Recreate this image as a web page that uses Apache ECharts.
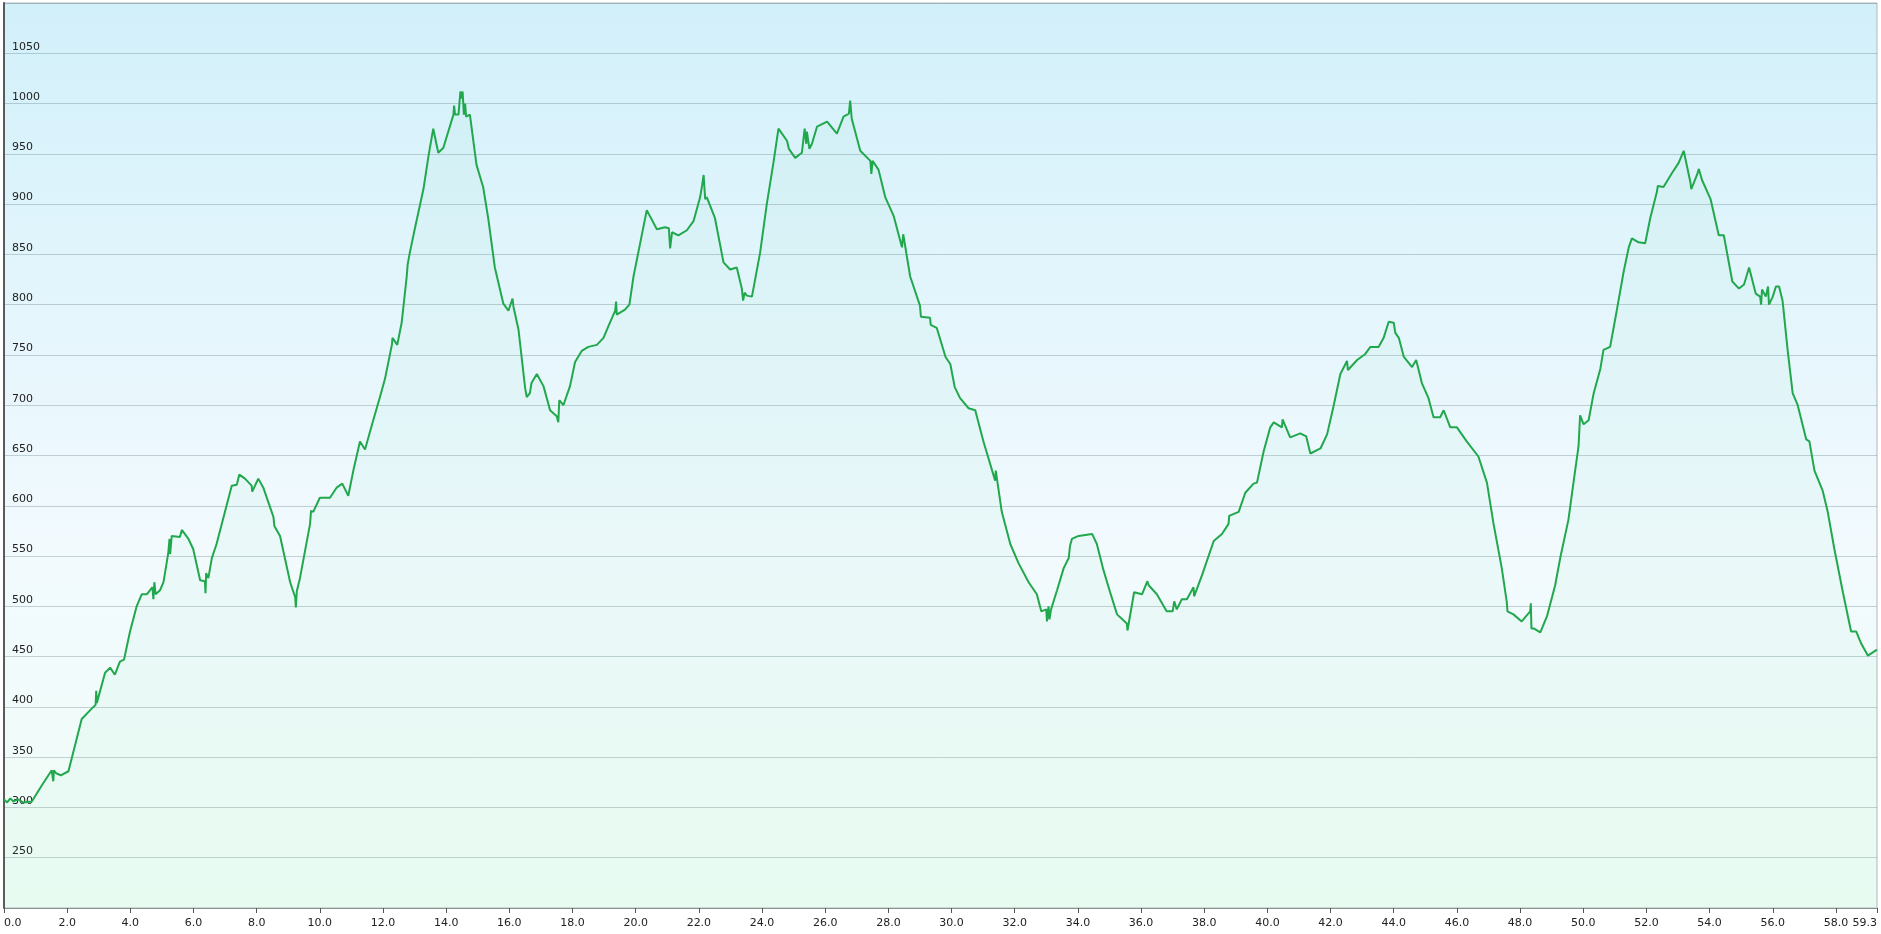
<!DOCTYPE html>
<html>
<head>
<meta charset="utf-8">
<title>Elevation profile</title>
<script src="https://cdn.jsdelivr.net/npm/echarts@6/dist/echarts.min.js"></script>
<style>
html,body{margin:0;padding:0;background:#fff;}
#chart{width:1881px;height:934px;}
</style>
</head>
<body>
<div id="chart"></div>
<script>
// distance (km)
var distances = [
0.00,0.10,0.20,0.30,0.45,0.60,0.88,1.20,1.51,1.56,1.58,1.65,1.80,2.04,2.46,2.83,2.90,2.92,2.94,3.20,
3.36,3.51,3.67,3.80,3.99,4.20,4.36,4.52,4.70,4.73,4.76,4.80,4.94,5.05,5.20,5.24,5.26,5.31,5.57,5.63,
5.84,5.99,6.21,6.36,6.38,6.40,6.47,6.58,6.73,7.21,7.37,7.45,7.63,7.84,7.86,8.05,8.21,8.53,8.56,8.74,
9.06,9.22,9.24,9.27,9.37,9.69,9.72,9.79,10.00,10.32,10.53,10.71,10.90,11.06,11.27,11.43,11.69,11.91,12.06,12.28,
12.30,12.45,12.59,12.75,12.78,12.85,13.01,13.28,13.44,13.59,13.75,13.91,14.23,14.25,14.28,14.39,14.45,14.49,14.52,14.56,
14.60,14.63,14.75,14.96,15.17,15.33,15.54,15.81,15.97,16.10,16.13,16.29,16.50,16.55,16.65,16.70,16.87,17.08,17.29,17.50,
17.55,17.58,17.71,17.92,18.08,18.29,18.50,18.77,18.98,19.14,19.35,19.38,19.40,19.66,19.80,19.93,20.14,20.35,20.67,20.93,
21.05,21.09,21.15,21.35,21.62,21.83,22.04,22.10,22.15,22.20,22.25,22.51,22.78,22.99,23.20,23.36,23.40,23.45,23.52,23.68,
23.94,24.15,24.36,24.52,24.79,24.85,25.05,25.26,25.35,25.40,25.42,25.50,25.58,25.74,26.06,26.37,26.58,26.75,26.79,26.84,
26.90,27.11,27.43,27.46,27.50,27.69,27.90,28.17,28.43,28.47,28.69,29.00,29.03,29.32,29.34,29.53,29.81,29.96,30.10,30.27,
30.54,30.75,31.01,31.38,31.40,31.59,31.86,32.12,32.44,32.70,32.84,33.00,33.02,33.07,33.10,33.15,33.34,33.55,33.71,33.75,
33.81,34.02,34.45,34.60,34.81,35.02,35.24,35.55,35.57,35.78,36.03,36.20,36.24,36.50,36.81,37.00,37.05,37.13,37.29,37.45,
37.66,37.68,37.93,38.30,38.56,38.77,38.79,39.09,39.30,39.56,39.67,39.88,40.09,40.20,40.46,40.48,40.72,41.04,41.23,41.36,
41.68,41.89,42.10,42.31,42.52,42.55,42.84,43.10,43.26,43.52,43.68,43.84,44.00,44.05,44.16,44.32,44.58,44.71,44.89,45.10,
45.26,45.47,45.58,45.79,46.00,46.31,46.68,46.95,47.16,47.42,47.58,47.60,47.79,48.05,48.32,48.34,48.36,48.43,48.64,48.85,
49.11,49.27,49.53,49.69,49.85,49.90,50.01,50.17,50.33,50.54,50.64,50.85,51.06,51.28,51.44,51.54,51.75,51.96,52.12,52.33,
52.36,52.54,52.81,53.02,53.18,53.39,53.42,53.60,53.66,53.76,54.03,54.29,54.45,54.72,54.93,55.09,55.25,55.46,55.60,55.63,
55.66,55.78,55.85,55.88,56.00,56.10,56.20,56.31,56.47,56.63,56.79,57.06,57.16,57.32,57.58,57.74,57.95,58.22,58.48,58.64,
58.80,59.01,59.30
];
// elevation (m)
var elevations = [
308,305,309,306,308,305,306,322,337,326,337,334,332,336,388,400,402,416,404,434,
439,432,445,447,475,500,512,512,519,507,524,512,516,524,553,567,552,570,569,576,
567,557,526,525,513,533,528,548,562,620,621,631,627,620,614,627,618,589,580,570,
524,509,499,515,528,582,595,594,608,608,618,622,610,635,664,656,685,709,726,760,
767,760,782,828,840,852,876,915,948,975,951,956,989,998,989,989,1012,1005,1012,989,
1000,987,989,939,917,886,837,801,794,806,798,775,717,708,712,722,731,719,695,689,
683,705,700,719,743,754,758,760,767,779,794,803,790,795,800,828,861,894,875,877,
876,856,872,869,874,883,907,918,929,905,907,886,842,835,837,816,804,812,809,808,
852,900,941,975,963,955,946,951,975,960,972,955,960,977,982,970,987,990,1003,985,
985,953,943,930,943,934,907,888,857,870,828,799,788,787,780,777,748,741,718,707,
697,695,664,625,635,594,562,543,524,512,495,497,485,500,487,497,516,538,548,560,
567,570,572,562,536,514,492,483,476,514,512,525,521,512,495,495,505,497,507,507,
519,510,531,565,572,582,590,594,613,622,623,654,678,683,678,686,668,672,669,652,
657,671,700,731,744,735,745,751,758,758,767,783,782,772,767,748,738,745,722,707,
688,688,695,678,678,664,649,623,582,538,504,495,492,485,495,503,478,478,474,490,
521,548,586,623,659,690,681,685,712,736,755,758,794,833,857,866,862,861,886,912,
918,917,931,941,953,922,915,929,935,924,905,869,869,823,816,820,837,811,808,800,
815,808,818,800,808,818,818,804,755,712,700,666,664,635,615,594,557,514,475,475,
463,451,457
];
// axis ranges / ticks
var xMin = 0, xMax = 59.3, xStep = 2;
var yMin = 200, yMax = 1100, yStep = 50;

var points = distances.map(function (d, i) { return [d, elevations[i]]; });

var chart = echarts.init(document.getElementById('chart'), null, {renderer: 'canvas'});
var font = '"DejaVu Sans", Verdana, sans-serif';
chart.setOption({
  animation: false,
  grid: {
    left: 4, right: 4, top: 3, bottom: 26,
    show: true,
    borderColor: '#b4b8ba',
    borderWidth: 1,
    backgroundColor: new echarts.graphic.LinearGradient(0, 0, 0, 1, [
      {offset: 0, color: '#d2f0fa'},
      {offset: 0.6, color: '#f2fafe'},
      {offset: 1, color: '#f0fdf6'}
    ])
  },
  xAxis: {
    type: 'value',
    min: xMin, max: xMax, interval: xStep,
    axisLine: {show: true, onZero: false, lineStyle: {color: '#8a8f92', width: 1}},
    axisTick: {show: true, length: 5, lineStyle: {color: '#555'}},
    splitLine: {show: false},
    axisLabel: {
      color: '#222', fontFamily: font, fontSize: 11, margin: 10,
      alignMinLabel: 'left', alignMaxLabel: 'right',
      formatter: function (v) { return v.toFixed(1); }
    }
  },
  yAxis: {
    type: 'value',
    min: yMin, max: yMax, interval: yStep,
    axisLine: {show: true, lineStyle: {color: '#5a5a5a', width: 2}},
    axisTick: {show: false},
    splitLine: {show: true, lineStyle: {color: 'rgba(70,100,110,0.28)', width: 1}},
    axisLabel: {
      inside: true, color: '#222', fontFamily: font, fontSize: 11,
      margin: 8, align: 'left', verticalAlign: 'bottom', padding: [0, 0, 1, 0],
      showMinLabel: false, showMaxLabel: false,
      formatter: function (v) { return (v <= yMin || v >= yMax) ? '' : String(v); }
    }
  },
  series: [{
    type: 'line',
    data: points,
    showSymbol: false,
    symbol: 'none',
    smooth: false,
    lineStyle: {color: '#22a84c', width: 2},
    areaStyle: {color: 'rgba(60,210,130,0.06)'}
  }]
});
</script>
</body>
</html>
